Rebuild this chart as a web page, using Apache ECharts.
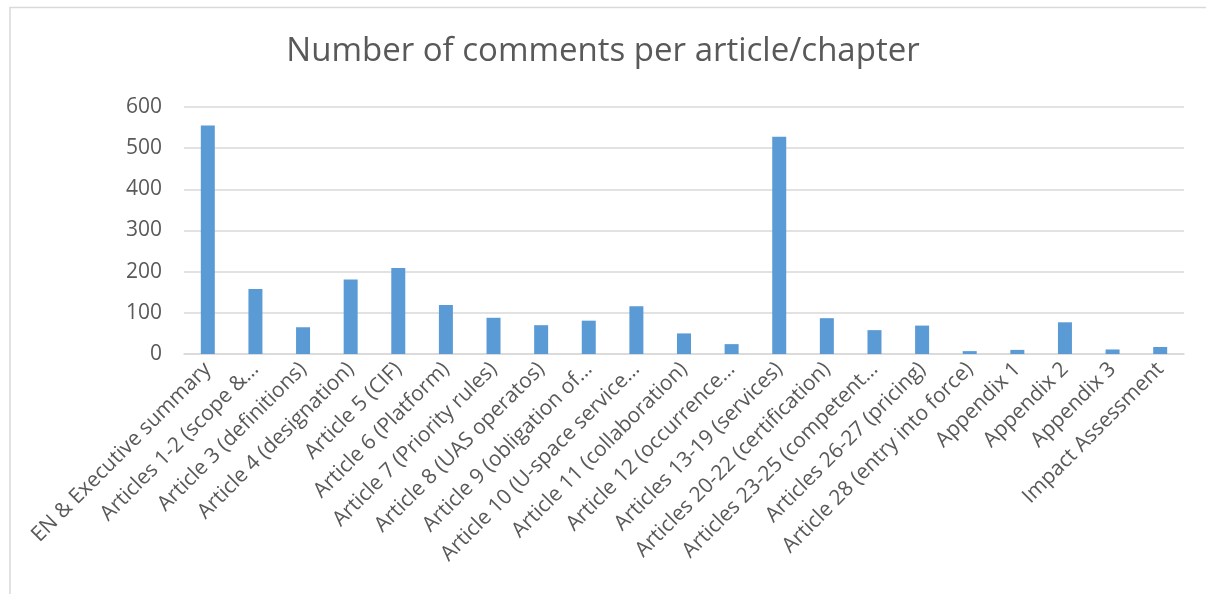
<!DOCTYPE html>
<html>
<head>
<meta charset="utf-8">
<script src="https://cdn.jsdelivr.net/npm/echarts@6/dist/echarts.min.js"></script>
<style>
html,body{margin:0;padding:0;background:#fff;}
#chart{width:1206px;height:594px;}
</style>
</head>
<body>
<div id="chart"></div>
<script>
const categories = [
  "EN & Executive summary",
  "Articles 1-2 (scope &…",
  "Article 3 (definitions)",
  "Article 4 (designation)",
  "Article 5 (CIF)",
  "Article 6 (Platform)",
  "Article 7 (Priority rules)",
  "Article 8 (UAS operatos)",
  "Article 9 (obligation of…",
  "Article 10 (U-space service…",
  "Article 11 (collaboration)",
  "Article 12 (occurrence…",
  "Articles 13-19 (services)",
  "Articles 20-22 (certification)",
  "Articles 23-25 (competent…",
  "Articles 26-27 (pricing)",
  "Article 28 (entry into force)",
  "Appendix 1",
  "Appendix 2",
  "Appendix 3",
  "Impact Assessment"
];
const comments = [555, 158, 65, 181, 209, 119, 88, 70, 81, 116, 50, 24, 528, 87, 58, 69, 7, 10, 77, 11, 17];
const yTicks = [0, 100, 200, 300, 400, 500, 600];
const titleText = "Number of comments per article/chapter";

const chart = echarts.init(document.getElementById('chart'));
chart.setOption({
  animation: false,
  backgroundColor: '#ffffff',
  graphic: [{
    type: 'rect',
    shape: { x: 10, y: 7.5, width: 1210, height: 600 },
    style: { fill: 'none', stroke: '#d9d9d9', lineWidth: 1.5 },
    silent: true
  }],
  title: {
    text: titleText,
    left: 'center',
    top: 30,
    textStyle: { fontFamily: 'Open Sans', fontSize: 33, fontWeight: 'normal', color: '#595959' }
  },
  grid: { left: 184, right: 22, top: 107, bottom: 240, containLabel: false },
  xAxis: {
    type: 'category',
    data: categories,
    axisLine: { lineStyle: { color: '#d9d9d9', width: 1.5 } },
    axisTick: { show: false },
    axisLabel: {
      rotate: 45,
      interval: 0,
      margin: 12,
      fontFamily: 'Open Sans',
      fontSize: 21,
      color: '#595959'
    }
  },
  yAxis: {
    type: 'value',
    min: yTicks[0],
    max: yTicks[yTicks.length - 1],
    interval: 100,
    axisLine: { show: false },
    axisTick: { show: false },
    splitLine: { lineStyle: { color: '#d9d9d9', width: 1.5 } },
    axisLabel: { margin: 22, fontFamily: 'Open Sans', fontSize: 21, color: '#595959' }
  },
  series: [{
    type: 'bar',
    data: comments,
    barWidth: 14,
    itemStyle: { color: '#5b9bd5' }
  }]
});
</script>
</body>
</html>
